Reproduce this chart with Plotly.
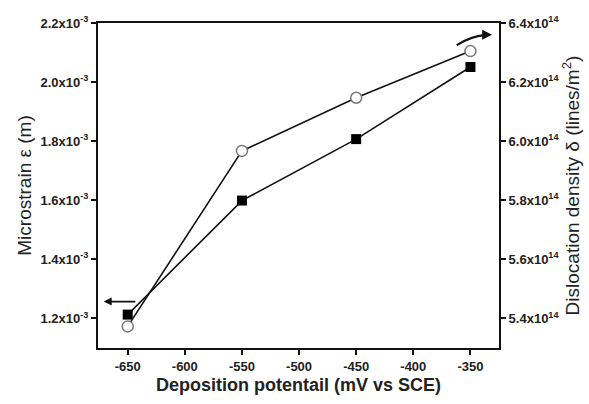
import plotly.graph_objects as go

# Data
potential = [-650, -550, -450, -350]
microstrain = [1.213e-3, 1.599e-3, 1.807e-3, 2.051e-3]
dislocation = [5.373e14, 5.967e14, 6.147e14, 6.305e14]

x_ticks = [-650, -600, -550, -500, -450, -400, -350]
y1_ticks = [1.2e-3, 1.4e-3, 1.6e-3, 1.8e-3, 2.0e-3, 2.2e-3]
y1_labels = ["1.2", "1.4", "1.6", "1.8", "2.0", "2.2"]
y2_ticks = [5.4e14, 5.6e14, 5.8e14, 6.0e14, 6.2e14, 6.4e14]
y2_labels = ["5.4", "5.6", "5.8", "6.0", "6.2", "6.4"]

FONT = "Liberation Sans, Arial, sans-serif"
TXT = "#222"

fig = go.Figure()
fig.add_trace(go.Scatter(
    x=potential, y=microstrain, mode="lines+markers",
    line=dict(color="#111", width=1.6),
    marker=dict(symbol="square", size=10, color="#000"),
    showlegend=False))
fig.add_trace(go.Scatter(
    x=potential, y=dislocation, mode="lines+markers", yaxis="y2",
    line=dict(color="#111", width=1.6),
    marker=dict(symbol="circle", size=11, color="white",
                line=dict(color="#777", width=1.5)),
    showlegend=False))

axis_common = dict(showline=True, linecolor="#111", linewidth=2,
                   ticks="outside", ticklen=5, tickwidth=2, tickcolor="#111",
                   showgrid=False, zeroline=False,
                   tickfont=dict(family=FONT, size=13, color=TXT, weight="bold"))

fig.update_layout(
    width=589, height=404,
    margin=dict(l=98, r=88, t=23, b=56),
    paper_bgcolor="white", plot_bgcolor="white",
    xaxis=dict(range=[-676, -325], tickvals=x_ticks,
               ticktext=[str(v) for v in x_ticks],
               mirror=True,
               title=dict(text="Deposition potentail (mV vs SCE)",
                          font=dict(family=FONT, size=18, color=TXT, weight="bold"),
                          standoff=6),
               **axis_common),
    yaxis=dict(range=[1.1e-3, 2.2e-3], tickvals=y1_ticks,
               ticktext=[f"{l}x10<sup>-3</sup>" for l in y1_labels],
               title=dict(text="Microstrain ε (m)",
                          font=dict(family=FONT, size=19, color=TXT), standoff=4),
               **axis_common),
    yaxis2=dict(range=[5.3e14, 6.4e14], tickvals=y2_ticks,
                ticktext=[f"{l}x10<sup>14</sup>" for l in y2_labels],
                overlaying="y", side="right",
                title=dict(text="Dislocation density δ (lines/m<sup>2</sup>)",
                           font=dict(family=FONT, size=19, color=TXT), standoff=4),
                **axis_common),
)

# Left-pointing arrow near the microstrain series
fig.add_annotation(x=-671, y=1.257e-3, ax=-642, ay=1.257e-3,
                   xref="x", yref="y", axref="x", ayref="y",
                   text="", showarrow=True, arrowhead=2, arrowsize=1,
                   arrowwidth=1.6, arrowcolor="#111", standoff=0, startstandoff=0)
# Right-pointing curved arrow near the dislocation series
fig.add_shape(type="path", xref="x", yref="y2",
              path="M -362 6.325e14 Q -350 6.355e14 -337 6.36e14",
              line=dict(color="#111", width=2.2))
fig.add_annotation(x=-331, y=6.36e14, ax=-340, ay=6.36e14,
                   xref="x", yref="y2", axref="x", ayref="y2",
                   text="", showarrow=True, arrowhead=2, arrowsize=1,
                   arrowwidth=2, arrowcolor="#111", standoff=0)

fig.write_html("out.html")
